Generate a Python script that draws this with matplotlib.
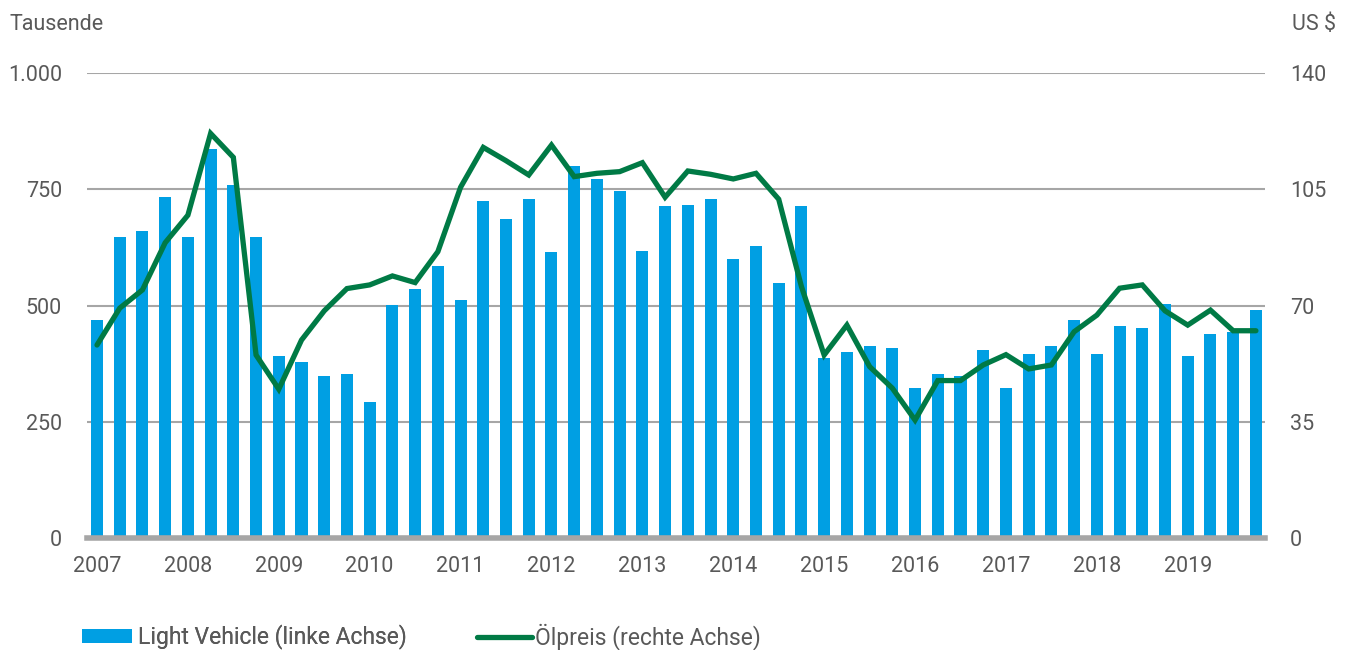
import matplotlib
matplotlib.use("Agg")
import matplotlib.pyplot as plt
import numpy as np
from matplotlib.patches import Patch
from matplotlib.lines import Line2D

plt.rcParams['font.family'] = ['Roboto', 'DejaVu Sans']

years = ['2007', '2008', '2009', '2010', '2011', '2012', '2013',
         '2014', '2015', '2016', '2017', '2018', '2019']

light_vehicle = [469, 648, 661, 734, 648, 837, 760, 648,
                 391, 378, 348, 353, 292, 502, 536, 584,
                 512, 725, 687, 730, 614, 799, 773, 747,
                 618, 713, 717, 730, 601, 627, 549, 713,
                 387, 400, 413, 409, 322, 353, 348, 404,
                 322, 396, 413, 469, 396, 456, 452, 503,
                 391, 439, 443, 490]

oil_price = [58.1, 69.2, 74.7, 88.9, 97.2, 121.8, 114.6, 55.1,
             44.8, 59.6, 68.4, 75.1, 76.2, 78.9, 76.9, 86.2,
             105.6, 117.6, 113.6, 109.3, 118.3, 108.8, 109.8, 110.3,
             113.0, 102.6, 110.5, 109.5, 108.1, 109.8, 102.0, 75.7,
             55.1, 64.1, 51.6, 45.1, 35.5, 47.4, 47.4, 52.1,
             55.2, 50.9, 52.1, 62.1, 67.1, 75.2, 76.2, 68.4,
             64.1, 68.6, 62.4, 62.4]

left_ticks = [0, 250, 500, 750, 1000]
left_labels = ['0', '250', '500', '750', '1.000']
right_ticks = [0, 35, 70, 105, 140]

blue = '#009FE3'
green = '#007A45'
txt = '#595959'
grid = '#A6A6A6'
fs_tick = 15.5
fs_leg = 16.5

W, H = 1353, 650
fig = plt.figure(figsize=(W / 100, H / 100), dpi=100)
ax = fig.add_axes([87 / W, 1 - 538 / H, (1265 - 87) / W, (538 - 73) / H])

x = np.arange(len(light_vehicle))
ax.bar(x, light_vehicle, width=0.53, color=blue, zorder=2)
ax.set_xlim(-0.44, 51.4)
ax.set_ylim(0, 1000)
ax.set_yticks(left_ticks)
ax.set_yticklabels(left_labels)
ax.yaxis.grid(True, color=grid, linewidth=1.5, zorder=0)
ax.set_axisbelow(True)
ax.set_xticks(np.arange(0, len(light_vehicle), 4))
ax.set_xticklabels(years)
for s in ['top', 'right', 'left']:
    ax.spines[s].set_visible(False)
ax.spines['bottom'].set_color(grid)
ax.spines['bottom'].set_linewidth(4)
ax.spines['bottom'].set_zorder(3)
ax.tick_params(axis='both', length=0, labelsize=fs_tick, labelcolor=txt)
ax.tick_params(axis='y', pad=18)
ax.tick_params(axis='x', pad=13)

ax2 = ax.twinx()
ax2.plot(x, oil_price, color=green, linewidth=3.8, solid_joinstyle='miter',
         solid_capstyle='round', zorder=4)
ax2.set_ylim(0, 140)
ax2.set_yticks(right_ticks)
for s in ['top', 'right', 'left', 'bottom']:
    ax2.spines[s].set_visible(False)
ax2.tick_params(axis='y', length=0, labelsize=fs_tick, labelcolor=txt, pad=18)

fig.text(10 / W, 1 - 25 / H, 'Tausende', fontsize=fs_tick, color=txt,
         ha='left', va='center')
fig.text(1336 / W, 1 - 25 / H, 'US $', fontsize=fs_tick, color=txt,
         ha='right', va='center')

leg1 = fig.legend([Patch(facecolor=blue, edgecolor='none')],
                  ['Light Vehicle (linke Achse)'],
                  loc='center left', bbox_to_anchor=(82 / W, 1 - 637 / H),
                  frameon=False, fontsize=fs_leg, labelcolor=txt,
                  handlelength=2.18, handleheight=0.6, handletextpad=0.28,
                  borderpad=0, borderaxespad=0)
leg2 = fig.legend([Line2D([0], [0], color=green, linewidth=3.8,
                          solid_capstyle='round')],
                  ['Ölpreis (rechte Achse)'],
                  loc='center left', bbox_to_anchor=(477 / W, 1 - 637 / H),
                  frameon=False, fontsize=fs_leg, labelcolor=txt,
                  handlelength=2.4, handletextpad=0.12,
                  borderpad=0, borderaxespad=0)
fig.add_artist(leg1)

fig.savefig('out.png', dpi=100, facecolor='white')
